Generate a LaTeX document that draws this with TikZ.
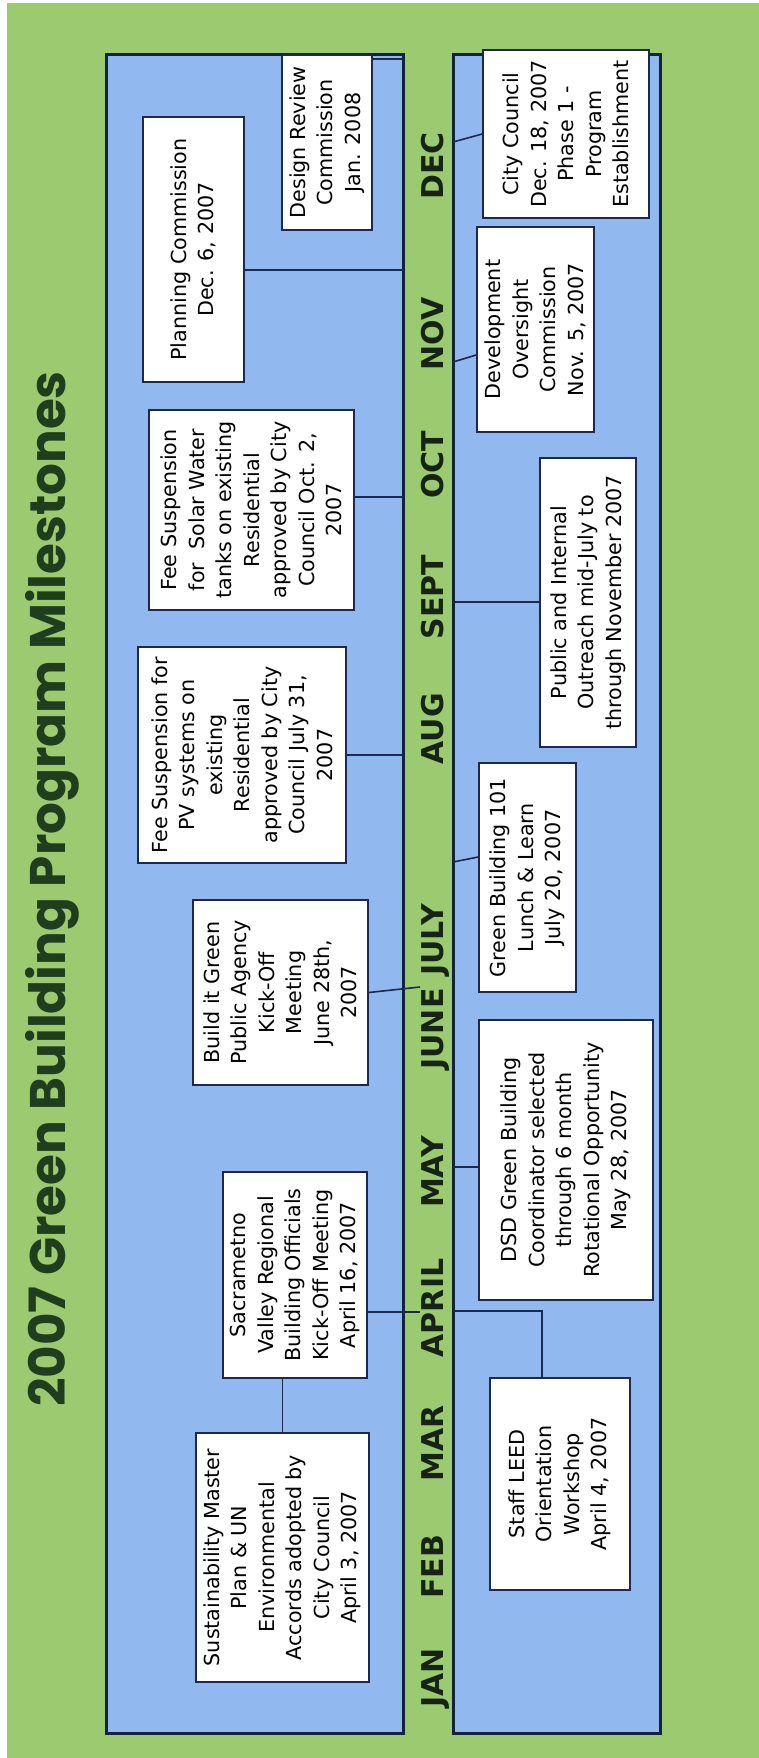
\documentclass[tikz,border=0pt]{standalone}
\usepackage{fontspec}
\usepackage{tikz}
\newfontfamily\boxfont{DejaVu Sans}
\newfontfamily\titlefont{Poppins}
\definecolor{bggreen}{RGB}{156,202,112}
\definecolor{panelblue}{RGB}{146,184,240}
\definecolor{panelline}{RGB}{20,35,60}
\definecolor{boxline}{RGB}{28,40,80}
\definecolor{monthgreen}{RGB}{22,36,22}
\definecolor{titlegreen}{RGB}{30,62,30}

\begin{document}
\begin{tikzpicture}[x=1pt, y=-1pt]
\tikzstyle{event} = [rectangle, rotate=90, fill=white, draw=boxline, line width=1.5pt, inner sep=1.5pt, align=center, font=\boxfont\fontsize{20.7}{27.5}\selectfont]
\tikzstyle{month} = [rotate=90, anchor=base, text=monthgreen, font=\boxfont\bfseries\fontsize{30}{34}\selectfont]
\tikzstyle{panel} = [rectangle, fill=panelblue, draw=panelline, line width=3pt, inner sep=0pt]
\tikzstyle{link} = [draw=boxline, line width=1.6pt]

 %背景
\useasboundingbox (0,0) rectangle (759,1758);
\fill [white] (0,0) rectangle (759,1758);
\fill [bggreen] (7,3) rectangle (759,1758);
\node (title) [rotate=90, anchor=base, text=titlegreen, font=\titlefont\bfseries\fontsize{50}{60}\selectfont] at (65,889) {2007 Green Building Program Milestones};
\node (upper) [panel, minimum width=297pt, minimum height=1678pt] at (254.5,894) {};
\node (lower) [panel, minimum width=207pt, minimum height=1678pt] at (556.5,894) {};

 %月份
\node (jan) [month] at (443,1678) {JAN};
\node (feb) [month] at (443,1567) {FEB};
\node (mar) [month] at (443,1443) {MAR};
\node (apr) [month] at (443,1308) {APRIL};
\node (may) [month] at (443,1172) {MAY};
\node (jun) [month] at (443,1029) {JUNE};
\node (jul) [month] at (443,940) {JULY};
\node (aug) [month] at (443,729) {AUG};
\node (sep) [month] at (443,597) {SEPT};
\node (oct) [month] at (443,465) {OCT};
\node (nov) [month] at (443,334) {NOV};
\node (dec) [month] at (443,166) {DEC};

 %上方方框
\node (plan) [event, minimum width=265pt, minimum height=101pt] at (193.5,249.5) {Planning Commission\\Dec. 6, 2007};
\node (design) [event, minimum width=175pt, minimum height=90pt] at (327,142.5) {Design Review\\Commission\\Jan. 2008};
\node (solar) [event, minimum width=200pt, minimum height=205pt] at (251.5,510) {Fee Suspension\\for\ \ Solar Water\\tanks on existing\\Residential\\approved by City\\Council Oct. 2,\\2007};
\node (pv) [event, minimum width=216pt, minimum height=208pt] at (242,755) {Fee Suspension for\\PV systems on\\existing\\Residential\\approved by City\\Council July 31,\\2007};
\node (bigreen) [event, minimum width=185pt, minimum height=175pt] at (280.5,992.5) {Build it Green\\Public Agency\\Kick-Off\\Meeting\\June 28th,\\2007};
\node (sacto) [event, minimum width=206pt, minimum height=144pt] at (295,1275) {Sacrametno\\Valley Regional\\Building Officials\\Kick-Off Meeting\\April 16, 2007};
\node (sustain) [event, minimum width=249pt, minimum height=173pt] at (282.5,1557.5) {Sustainability Master\\Plan \& UN\\Environmental\\Accords adopted by\\City Council\\April 3, 2007};

 %下方方框
\node (council) [event, minimum width=168pt, minimum height=166pt] at (566,134) {City Council\\Dec. 18, 2007\\Phase 1 -\\Program\\Establishment};
\node (oversight) [event, minimum width=205pt, minimum height=117pt] at (535.5,329.5) {Development\\Oversight\\Commission\\Nov. 5, 2007};
\node (outreach) [event, minimum width=289pt, minimum height=96pt] at (588,602.5) {Public and Internal\\Outreach mid-July to\\through November 2007};
\node (lunch) [event, minimum width=229pt, minimum height=97pt] at (527.5,877.5) {Green Building 101\\Lunch \& Learn\\July 20, 2007};
\node (dsd) [event, minimum width=280pt, minimum height=174pt] at (566,1160) {DSD Green Building\\Coordinator selected\\through 6 month\\Rotational Opportunity\\May 28, 2007};
\node (leed) [event, minimum width=212pt, minimum height=140pt] at (560,1484) {Staff LEED\\Orientation\\Workshop\\April 4, 2007};

 %连接点
\coordinate (p-design) at (403,59);
\coordinate (p-plan) at (403,270);
\coordinate (p-solar) at (403,497);
\coordinate (p-pv) at (403,755);
\coordinate (p-bigreen) at (420,987);
\coordinate (p-sacto) at (420,1312);
\coordinate (p-council) at (453,142);
\coordinate (p-oversight) at (453,362);
\coordinate (p-outreach) at (453,602);
\coordinate (p-lunch) at (453,862);
\coordinate (p-dsd) at (453,1167);
\coordinate (p-leed) at (453,1311);

 %连接线
\draw [link] (design.south |- p-design) -- (p-design);
\draw [link] (plan.south |- p-plan) -- (p-plan);
\draw [link] (solar.south |- p-solar) -- (p-solar);
\draw [link] (pv.south |- p-pv) -- (p-pv);
\draw [link] (bigreen.south) -- (p-bigreen);
\draw [link] (sacto.south |- p-sacto) -- (p-sacto);
\draw [link] (sustain.east) -- (sustain.east |- sacto.west);
\draw [link] (p-council) -- (council.north);
\draw [link] (p-oversight) -- (oversight.north |- 0,355);
\draw [link] (p-outreach) -- (outreach.north |- p-outreach);
\draw [link] (p-lunch) -- (lunch.north |- 0,857);
\draw [link] (p-dsd) -- (dsd.north |- p-dsd);
\draw [link] (p-leed) -| ([xshift=-18pt]leed.east);
\end{tikzpicture}
\end{document}
